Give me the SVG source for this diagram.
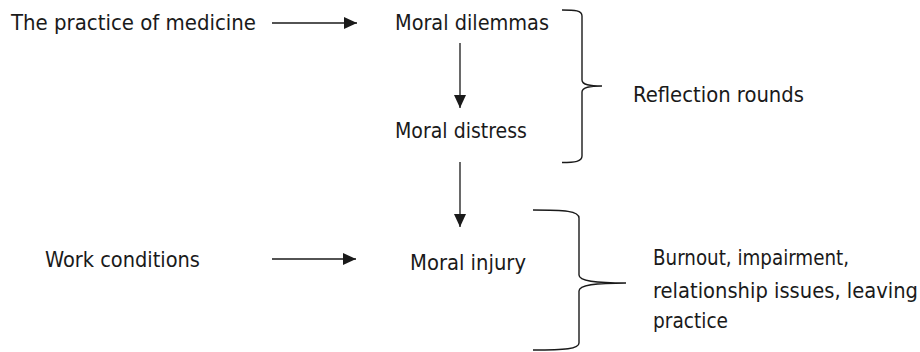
<svg xmlns="http://www.w3.org/2000/svg" width="920" height="352" viewBox="0 0 920 352">
<style>
text{font-family:"DejaVu Sans Condensed","DejaVu Sans",sans-serif;font-size:21px;fill:#1a1a1a;}
.c{stroke:#1a1a1a;stroke-width:1.3;fill:none;}
.b{stroke:#1a1a1a;stroke-width:1.4;fill:none;}
</style>
<defs>
<marker id="ah" markerWidth="13" markerHeight="13" refX="13" refY="6.5" orient="auto" markerUnits="userSpaceOnUse">
<path d="M0,0.5 L13,6.5 L0,12.5 Z" fill="#1a1a1a"/>
</marker>
</defs>
<rect width="920" height="352" fill="#fff"/>
<g id="n-practice"><text x="11" y="30" textLength="245" lengthAdjust="spacingAndGlyphs">The practice of medicine</text></g>
<g id="n-dilemmas"><text x="395" y="30" textLength="154" lengthAdjust="spacingAndGlyphs">Moral dilemmas</text></g>
<g id="n-distress"><text x="395" y="138" textLength="132" lengthAdjust="spacingAndGlyphs">Moral distress</text></g>
<g id="n-reflection"><text x="633" y="102" textLength="171" lengthAdjust="spacingAndGlyphs">Reflection rounds</text></g>
<g id="n-work"><text x="45" y="267" textLength="155" lengthAdjust="spacingAndGlyphs">Work conditions</text></g>
<g id="n-injury"><text x="410" y="270" textLength="116" lengthAdjust="spacingAndGlyphs">Moral injury</text></g>
<g id="n-outcomes">
<text x="653" y="265" textLength="196" lengthAdjust="spacingAndGlyphs">Burnout, impairment,</text>
<text x="653" y="298" textLength="265" lengthAdjust="spacingAndGlyphs">relationship issues, leaving</text>
<text x="653" y="328" textLength="75" lengthAdjust="spacingAndGlyphs">practice</text>
</g>
<g id="connectors">
<line class="c" x1="272" y1="23" x2="357" y2="23" marker-end="url(#ah)"/>
<line class="c" x1="272" y1="259" x2="356" y2="259" marker-end="url(#ah)"/>
<line class="c" x1="460" y1="43" x2="460" y2="108" marker-end="url(#ah)"/>
<line class="c" x1="460" y1="162" x2="460" y2="227" marker-end="url(#ah)"/>
<path class="b" d="M562 10 C575 10,582 10.5,582 16 L582 80 C582 85,590 86,602 86 C590 86,582 87,582 92 L582 156 C582 161.5,575 162.5,562 162.5"/>
<path class="b" d="M533 210 C565 210,579 211,579 218 L579 275 C579 281,595 283,626 283 C595 283,579 285,579 291 L579 343 C579 349,565 350,533 350"/>
</g>
</svg>
